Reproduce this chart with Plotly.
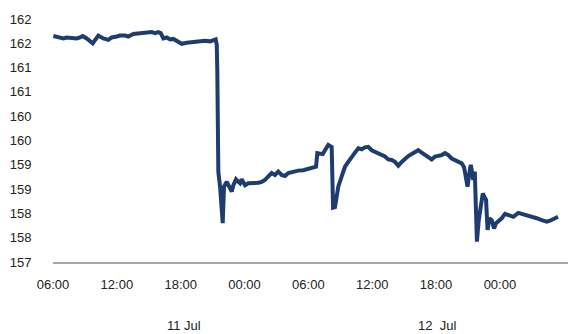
import pandas as pd
import plotly.graph_objects as go

# ---- data ----
start_time = "2024-07-11 06:00"
hours_since_start = [
    0.03, 0.50, 0.97, 1.29, 1.76, 2.23, 2.54, 2.79, 3.17, 3.73, 4.26, 4.73, 5.20, 5.52, 5.99,
    6.30, 6.77, 7.08, 7.55, 8.18, 8.81, 9.28, 9.59, 9.90, 10.12, 10.37, 10.69, 11.00, 11.31,
    11.63, 12.10, 12.57, 13.19, 13.82, 14.29, 14.76, 15.29, 15.39, 15.44, 15.54, 15.70, 15.95,
    16.07, 16.33, 16.57, 16.80, 16.95, 17.20, 17.42, 17.58, 17.73, 18.05, 18.36, 18.83, 19.30,
    19.61, 19.92, 20.24, 20.55, 20.86, 21.17, 21.49, 21.80, 22.11, 22.58, 23.05, 23.52, 24.00,
    24.46, 24.72, 24.84, 25.09, 25.35, 25.56, 25.87, 26.19, 26.25, 26.32, 26.50, 26.64, 26.81,
    27.13, 27.44, 27.75, 28.07, 28.38, 28.69, 29.01, 29.32, 29.63, 29.95, 30.26, 30.57, 30.89,
    31.20, 31.51, 31.83, 32.14, 32.45, 32.77, 33.08, 33.39, 33.71, 34.02, 34.33, 34.65, 34.96,
    35.27, 35.59, 35.90, 36.21, 36.53, 36.84, 37.15, 37.47, 37.78, 38.09, 38.41, 38.63, 38.82,
    38.96, 39.13, 39.26, 39.38, 39.50, 39.64, 39.76, 39.84, 40.01, 40.20, 40.39, 40.54, 40.70,
    40.84, 41.01, 41.23, 41.45, 41.64, 41.85, 42.17, 42.48, 42.79, 43.26, 43.73, 44.05, 44.52,
    44.99, 45.46, 45.93, 46.40, 46.71, 47.02, 47.34, 47.46,
]
usdjpy = [
    161.65, 161.62, 161.60, 161.62, 161.60, 161.60, 161.62, 161.65, 161.60, 161.50, 161.66,
    161.60, 161.57, 161.62, 161.64, 161.66, 161.66, 161.64, 161.69, 161.71, 161.71, 161.73,
    161.71, 161.73, 161.71, 161.60, 161.62, 161.58, 161.59, 161.55, 161.49, 161.51, 161.53,
    161.54, 161.55, 161.54, 161.58, 161.47, 160.95, 158.85, 158.55, 157.80, 158.55, 158.65,
    158.55, 158.45, 158.58, 158.70, 158.65, 158.62, 158.70, 158.58, 158.62, 158.62, 158.63,
    158.65, 158.69, 158.76, 158.83, 158.79, 158.86, 158.79, 158.77, 158.83, 158.86, 158.88,
    158.89, 158.91, 158.93, 158.96, 159.24, 159.24, 159.22, 159.30, 159.41, 159.37, 158.28,
    158.12, 158.13, 158.38, 158.55, 158.76, 158.96, 159.06, 159.17, 159.25, 159.34, 159.32,
    159.36, 159.37, 159.30, 159.27, 159.25, 159.22, 159.17, 159.11, 159.10, 159.06, 158.98,
    159.06, 159.13, 159.18, 159.22, 159.27, 159.30, 159.25, 159.20, 159.15, 159.11, 159.17,
    159.18, 159.20, 159.24, 159.20, 159.13, 159.10, 159.05, 159.03, 158.95, 158.75, 158.55,
    158.83, 159.00, 158.86, 158.69, 158.86, 158.14, 157.42, 157.86, 158.14, 158.41, 158.34,
    158.28, 157.66, 157.90, 157.86, 157.69, 157.80, 157.83, 157.90, 157.99, 157.97, 157.93,
    158.01, 157.99, 157.97, 157.95, 157.90, 157.86, 157.83, 157.85, 157.88, 157.92, 157.93,
]
x_tick_times = [
    "2024-07-11 06:00", "2024-07-11 12:00", "2024-07-11 18:00", "2024-07-12 00:00",
    "2024-07-12 06:00", "2024-07-12 12:00", "2024-07-12 18:00", "2024-07-13 00:00",
]
x_tick_labels = ["06:00", "12:00", "18:00", "00:00", "06:00", "12:00", "18:00", "00:00"]
y_tick_values = [157, 157.5, 158, 158.5, 159, 159.5, 160, 160.5, 161, 161.5, 162]
y_tick_labels = ["157", "158", "158", "159", "159", "160", "160", "161", "161", "162", "162"]
day_labels = ["11 Jul", "12  Jul"]
day_label_times = ["2024-07-11 18:18", "2024-07-12 18:06"]
x_range = ["2024-07-11 06:00", "2024-07-13 06:24"]
y_range = [157, 162]

times = pd.Timestamp(start_time) + pd.to_timedelta(hours_since_start, unit="h")

FONT = "Liberation Sans, Arial, sans-serif"
TEXT = "#222222"

fig = go.Figure()
fig.add_trace(go.Scatter(
    x=times, y=usdjpy, mode="lines",
    line=dict(color="#1f3c6e", width=4),
    hoverinfo="skip", showlegend=False,
))

for lbl, t in zip(day_labels, day_label_times):
    fig.add_annotation(
        x=t, y=-0.263, xref="x", yref="paper", text=lbl, showarrow=False,
        font=dict(family=FONT, size=13, color=TEXT), xanchor="center", yanchor="middle",
    )

fig.update_layout(
    width=568, height=334,
    margin=dict(l=53, r=0, t=19, b=72),
    paper_bgcolor="white", plot_bgcolor="white",
    font=dict(family=FONT, size=13, color=TEXT),
    xaxis=dict(
        type="date", range=x_range,
        tickvals=x_tick_times, ticktext=x_tick_labels,
        showgrid=False, zeroline=False,
        showline=True, linecolor="#a8a8a8", linewidth=1.5,
        ticks="outside", ticklen=10, tickcolor="rgba(0,0,0,0)",
    ),
    yaxis=dict(
        range=y_range, tickvals=y_tick_values, ticktext=y_tick_labels,
        showgrid=False, zeroline=False, showline=False,
        ticks="outside", ticklen=18, tickcolor="rgba(0,0,0,0)",
    ),
)

fig.write_html("out.html")
